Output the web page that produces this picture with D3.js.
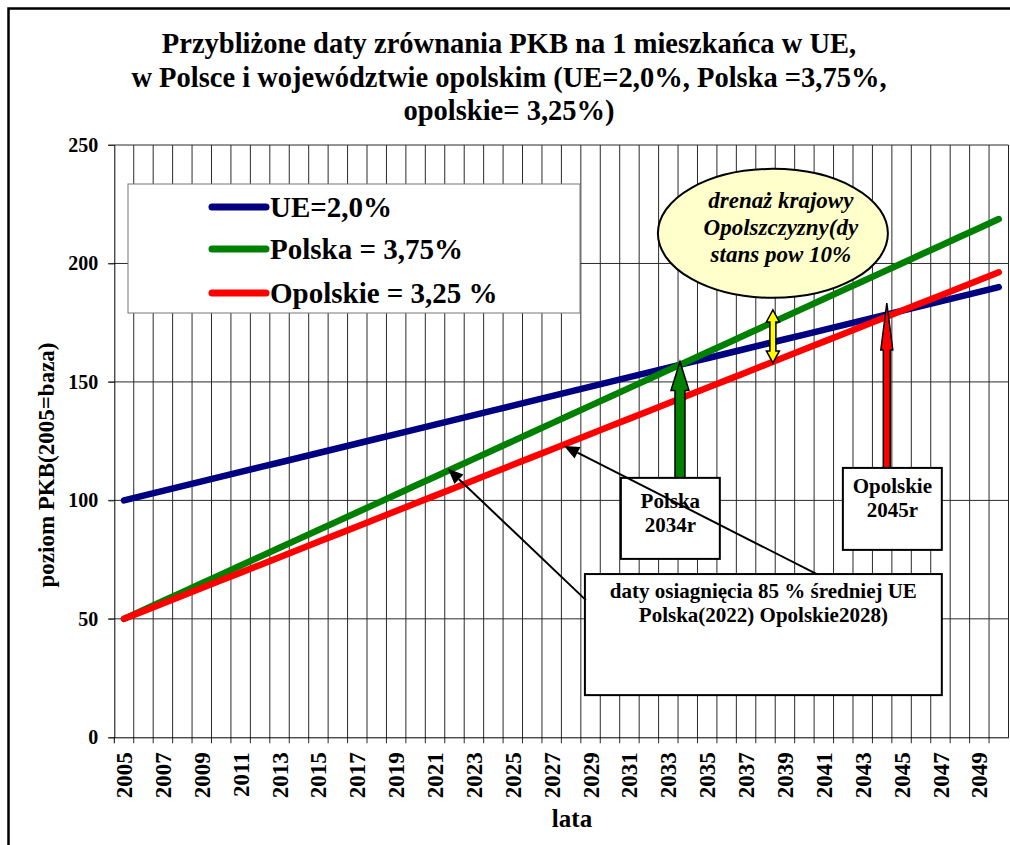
<!DOCTYPE html>
<html>
<head>
<meta charset="utf-8">
<script src="https://cdn.jsdelivr.net/npm/d3@7"></script>
<style>
  html, body { margin: 0; padding: 0; background: #fff; }
  svg { display: block; }
  text { font-family: "Liberation Serif", "Times New Roman", serif; font-weight: bold; fill: #000; }
</style>
</head>
<body>
<svg id="chart" width="1010" height="845"></svg>
<script>
// Years on the category axis
const years = [2005, 2006, 2007, 2008, 2009, 2010, 2011, 2012, 2013, 2014,
  2015, 2016, 2017, 2018, 2019, 2020, 2021, 2022, 2023, 2024,
  2025, 2026, 2027, 2028, 2029, 2030, 2031, 2032, 2033, 2034,
  2035, 2036, 2037, 2038, 2039, 2040, 2041, 2042, 2043, 2044,
  2045, 2046, 2047, 2048, 2049, 2050];

// GDP per capita level, 2005 = base
const ue = [100, 102, 104, 106, 108, 110, 112, 114, 116, 118,
  120, 122, 124, 126, 128, 130, 132, 134, 136, 138,
  140, 142, 144, 146, 148, 150, 152, 154, 156, 158,
  160, 162, 164, 166, 168, 170, 172, 174, 176, 178,
  180, 182, 184, 186, 188, 190];
const polska = [50, 53.75, 57.5, 61.25, 65, 68.75, 72.5, 76.25, 80, 83.75,
  87.5, 91.25, 95, 98.75, 102.5, 106.25, 110, 113.75, 117.5, 121.25,
  125, 128.75, 132.5, 136.25, 140, 143.75, 147.5, 151.25, 155, 158.75,
  162.5, 166.25, 170, 173.75, 177.5, 181.25, 185, 188.75, 192.5, 196.25,
  200, 203.75, 207.5, 211.25, 215, 218.75];
const opolskie = [50, 53.25, 56.5, 59.75, 63, 66.25, 69.5, 72.75, 76, 79.25,
  82.5, 85.75, 89, 92.25, 95.5, 98.75, 102, 105.25, 108.5, 111.75,
  115, 118.25, 121.5, 124.75, 128, 131.25, 134.5, 137.75, 141, 144.25,
  147.5, 150.75, 154, 157.25, 160.5, 163.75, 167, 170.25, 173.5, 176.75,
  180, 183.25, 186.5, 189.75, 193, 196.25];

const seriesNames = ["UE=2,0%", "Polska = 3,75%", "Opolskie = 3,25 %"];
const seriesColors = ["#000080", "#008000", "#FF0000"];
const yTicks = [0, 50, 100, 150, 200, 250];

const titleLines = [
  "Przybliżone daty zrównania PKB na 1 mieszkańca w UE,",
  "w Polsce i województwie opolskim (UE=2,0%, Polska =3,75%,",
  "opolskie= 3,25%)"
];

// Layout
const plot = { left: 114.3, right: 1008.5, top: 145, bottom: 737.3 };

const svg = d3.select("#chart");

const x = d3.scaleBand().domain(years).range([plot.left, plot.right]).padding(0);
const bw = x.bandwidth();
const xc = d => x(d) + bw / 2;
// continuous year position (for annotations placed between categories)
const xYear = d3.scaleLinear().domain([years[0], years[years.length - 1]])
  .range([xc(years[0]), xc(years[years.length - 1])]);
const y = d3.scaleLinear().domain([0, 250]).range([plot.bottom, plot.top]);

// Outer frame
svg.append("rect").attr("x", 8.5).attr("y", 8.5).attr("width", 1020).attr("height", 900)
  .attr("fill", "none").attr("stroke", "#000").attr("stroke-width", 2.5);

// Title
svg.append("g").selectAll("text").data(titleLines).join("text")
  .attr("x", 509).attr("y", (d, i) => 53 + i * 33.5)
  .attr("text-anchor", "middle").attr("font-size", 28.5)
  .text(d => d);

// Gridlines: vertical at category boundaries
const bounds = years.slice(1).map(d => x(d));
svg.append("g").selectAll("line").data(bounds).join("line")
  .attr("x1", d => d).attr("x2", d => d)
  .attr("y1", plot.top).attr("y2", plot.bottom + 6)
  .attr("stroke", "#2a2a2a").attr("stroke-width", 1);

// Gridlines: horizontal
svg.append("g").selectAll("line").data(yTicks.slice(1)).join("line")
  .attr("x1", plot.left - 6).attr("x2", plot.right)
  .attr("y1", d => y(d)).attr("y2", d => y(d))
  .attr("stroke", "#2a2a2a").attr("stroke-width", 1);

// Plot right border
svg.append("line").attr("x1", plot.right).attr("x2", plot.right)
  .attr("y1", plot.top).attr("y2", plot.bottom).attr("stroke", "#222");

// Y axis
const yAxis = d3.axisLeft(y).tickValues(yTicks).tickSize(6).tickPadding(10);
const gy = svg.append("g").attr("transform", `translate(${plot.left},0)`).call(yAxis);
gy.select(".domain").attr("stroke", "#000");
gy.selectAll(".tick line").attr("stroke", "#333");
gy.selectAll(".tick text").attr("font-size", 20).attr("font-family", "Liberation Serif")
  .attr("font-weight", "bold").attr("fill", "#000");

// X axis: tick at each category boundary, label every other year
const xAxis = d3.axisBottom(x).tickValues(years.filter((d, i) => i % 2 === 0)).tickSize(0);
const gx = svg.append("g").attr("transform", `translate(0,${plot.bottom})`).call(xAxis);
gx.select(".domain").attr("stroke", "#000");
gx.selectAll(".tick text")
  .attr("font-size", 23).attr("font-family", "Liberation Serif")
  .attr("font-weight", "bold").attr("fill", "#000")
  .attr("text-anchor", "end")
  .attr("transform", "translate(0,15) rotate(-90)")
  .attr("x", 0).attr("y", 0).attr("dy", "0.35em");
svg.append("line").attr("x1", plot.left).attr("x2", plot.left)
  .attr("y1", plot.bottom).attr("y2", plot.bottom + 6).attr("stroke", "#000");

// Axis titles
svg.append("text").attr("x", 572).attr("y", 827).attr("text-anchor", "middle")
  .attr("font-size", 25).text("lata");
svg.append("text").attr("transform", "translate(54,465) rotate(-90)")
  .attr("text-anchor", "middle").attr("font-size", 23).text("poziom PKB(2005=baza)");

// Series lines
const series = [ue, polska, opolskie];
const line = d3.line().x((d, i) => xc(years[i])).y(d => y(d));
svg.append("g").selectAll("path").data(series).join("path")
  .attr("d", d => line(d))
  .attr("fill", "none")
  .attr("stroke", (d, i) => seriesColors[i])
  .attr("stroke-width", 6.5)
  .attr("stroke-linecap", "round");

// Legend
const lg = svg.append("g");
lg.append("rect").attr("x", 128).attr("y", 184).attr("width", 452).attr("height", 129)
  .attr("fill", "#fff").attr("stroke", "#777").attr("stroke-width", 1);
const legendY = [207, 249, 293];
seriesNames.forEach((name, i) => {
  lg.append("line").attr("x1", 212).attr("x2", 266)
    .attr("y1", legendY[i]).attr("y2", legendY[i])
    .attr("stroke", seriesColors[i]).attr("stroke-width", 7).attr("stroke-linecap", "round");
  lg.append("text").attr("x", 270).attr("y", legendY[i] + 10)
    .attr("font-size", 29).text(name);
});

// Annotations
const ann = svg.append("g");

function box(y0, y1, v0, v1) {
  return { x: xYear(y0), y: y(v0), w: xYear(y1) - xYear(y0), h: y(v1) - y(v0) };
}

// Vertical block arrow (tip up), given year, tip value and base value
function blockArrow(year, vTip, vBase, fill, shaftW, headW, headL) {
  const cx = xYear(year), ty = y(vTip), by = y(vBase);
  const pts = [
    [cx, ty], [cx + headW / 2, ty + headL], [cx + shaftW / 2, ty + headL],
    [cx + shaftW / 2, by], [cx - shaftW / 2, by], [cx - shaftW / 2, ty + headL],
    [cx - headW / 2, ty + headL]
  ];
  ann.append("polygon").attr("points", pts.map(p => p.join(",")).join(" "))
    .attr("fill", fill).attr("stroke", "#000").attr("stroke-width", 1.5)
    .attr("stroke-linejoin", "miter");
}

// Ellipse with note
const ell = { year: 2038.38, value: 212.7, rx: 115, ry: 64.5 };
ann.append("ellipse").attr("cx", xYear(ell.year)).attr("cy", y(ell.value))
  .attr("rx", ell.rx).attr("ry", ell.ry)
  .attr("fill", "#FFFFCC").attr("stroke", "#000").attr("stroke-width", 2);
const ellText = ["drenaż krajowy", "Opolszczyzny(dy", "stans pow 10%"];
ann.append("g").selectAll("text").data(ellText).join("text")
  .attr("x", xYear(ell.year) + 8).attr("y", (d, i) => 208 + i * 27)
  .attr("text-anchor", "middle").attr("font-size", 23).attr("font-style", "italic")
  .text(d => d);

// Yellow double arrow between Polska and Opolskie
(function () {
  const cx = xYear(2038.38), t = y(180.4), b = y(158.0);
  const sw = 6, hw = 13, hl = 12;
  const pts = [
    [cx, t], [cx + hw / 2, t + hl], [cx + sw / 2, t + hl], [cx + sw / 2, b - hl],
    [cx + hw / 2, b - hl], [cx, b], [cx - hw / 2, b - hl], [cx - sw / 2, b - hl],
    [cx - sw / 2, t + hl], [cx - hw / 2, t + hl]
  ];
  ann.append("polygon").attr("points", pts.map(p => p.join(",")).join(" "))
    .attr("fill", "#FFFF00").attr("stroke", "#000").attr("stroke-width", 1.5);
})();

// Block arrows marking the crossing years
blockArrow(2033.6, 158.6, 109.5, "#008000", 10, 18, 29);
blockArrow(2044.24, 183.3, 113.7, "#FF0000", 7, 12, 47);

// Text boxes
const boxes = [
  { b: box(2030.56, 2035.65, 109.5, 75.3), lines: ["Polska", "2034r"], size: 21, base: 30 },
  { b: box(2041.98, 2047.07, 113.7, 79.1), lines: ["Opolskie", "2045r"], size: 21, base: 25 },
  { b: box(2028.71, 2047.07, 68.9, 17.8), lines: ["daty osiagnięcia 85 % średniej UE", "Polska(2022) Opolskie2028)"], size: 21, base: 24 }
];
boxes.forEach(o => {
  ann.append("rect").attr("x", o.b.x).attr("y", o.b.y).attr("width", o.b.w).attr("height", o.b.h)
    .attr("fill", "#fff").attr("stroke", "#000").attr("stroke-width", 2);
  o.lines.forEach((t, i) => {
    ann.append("text").attr("x", o.b.x + o.b.w / 2).attr("y", o.b.y + o.base + i * (o.size + 3))
      .attr("text-anchor", "middle").attr("font-size", o.size).text(t);
  });
});

// Pointer lines to the 85% dates
const pointers = [
  { from: [2028.76, 57.9], to: [2021.67, 113.3] },
  { from: [2040.64, 68.9], to: [2027.64, 123.0] }
];
pointers.forEach(p => {
  const x0 = xYear(p.from[0]), y0 = y(p.from[1]);
  const x1 = xYear(p.to[0]), y1 = y(p.to[1]);
  const ang = Math.atan2(y1 - y0, x1 - x0);
  const hl = 15, hw = 6.5;
  const bx = x1 - hl * Math.cos(ang), by = y1 - hl * Math.sin(ang);
  ann.append("line").attr("x1", x0).attr("y1", y0).attr("x2", bx).attr("y2", by)
    .attr("stroke", "#000").attr("stroke-width", 2);
  const px = -Math.sin(ang) * hw, py = Math.cos(ang) * hw;
  ann.append("polygon")
    .attr("points", [[x1, y1], [bx + px, by + py], [bx - px, by - py]].map(q => q.join(",")).join(" "))
    .attr("fill", "#000");
});
</script>
</body>
</html>
